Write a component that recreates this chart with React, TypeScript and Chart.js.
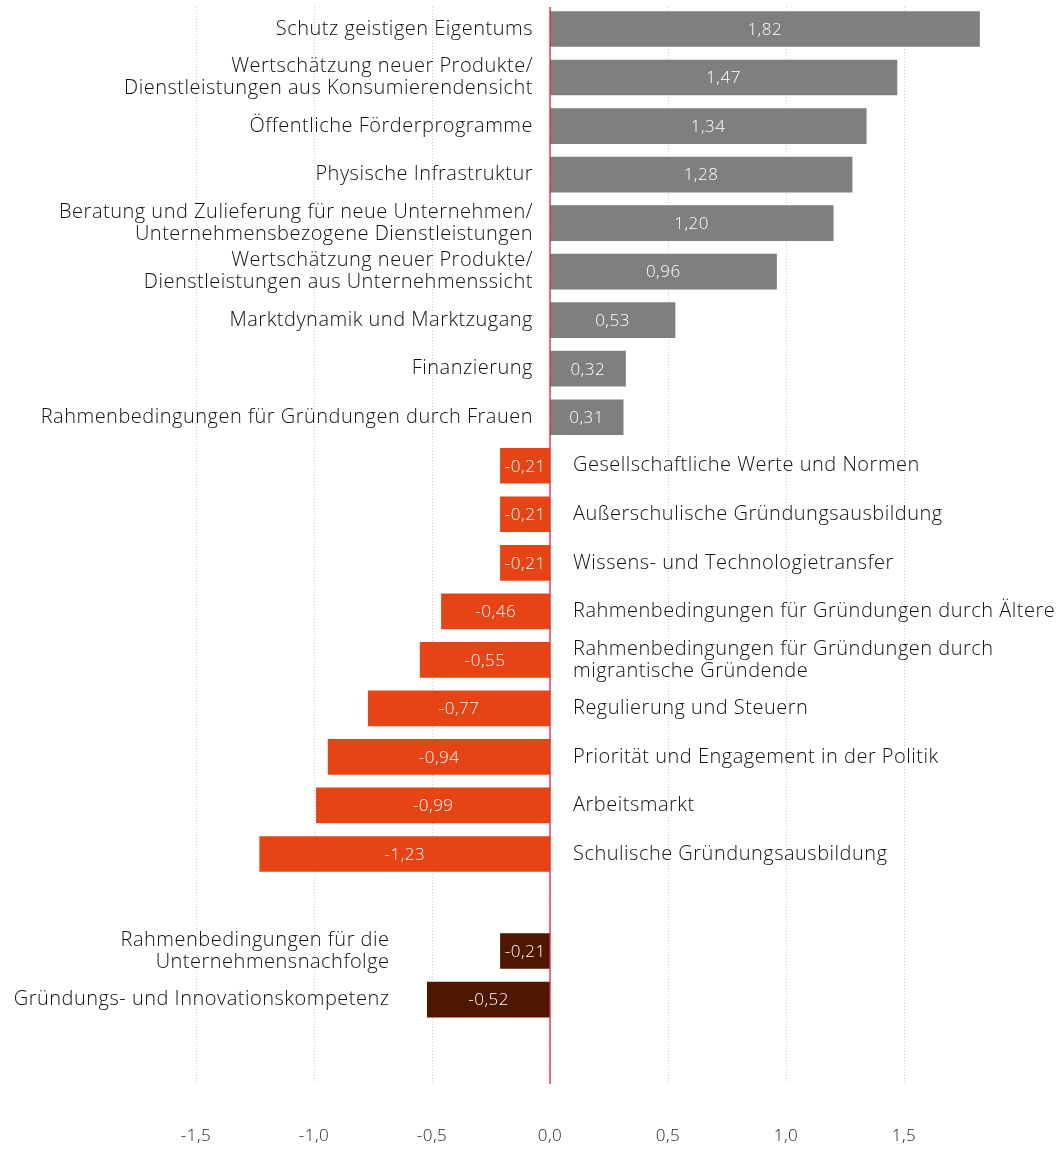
import React, { useEffect, useRef } from "react";
import { Chart, registerables } from "chart.js";

Chart.register(...registerables);

// ---- data ----
const categoryLabels: string[][] = [
  ["Schutz geistigen Eigentums"],
  ["Wertschätzung neuer Produkte/", "Dienstleistungen aus Konsumierendensicht"],
  ["Öffentliche Förderprogramme"],
  ["Physische Infrastruktur"],
  ["Beratung und Zulieferung für neue Unternehmen/", "Unternehmensbezogene Dienstleistungen"],
  ["Wertschätzung neuer Produkte/", "Dienstleistungen aus Unternehmenssicht"],
  ["Marktdynamik und Marktzugang"],
  ["Finanzierung"],
  ["Rahmenbedingungen für Gründungen durch Frauen"],
  ["Gesellschaftliche Werte und Normen"],
  ["Außerschulische Gründungsausbildung"],
  ["Wissens- und Technologietransfer"],
  ["Rahmenbedingungen für Gründungen durch Ältere"],
  ["Rahmenbedingungen für Gründungen durch", "migrantische Gründende"],
  ["Regulierung und Steuern"],
  ["Priorität und Engagement in der Politik"],
  ["Arbeitsmarkt"],
  ["Schulische Gründungsausbildung"],
  ["Rahmenbedingungen für die", "Unternehmensnachfolge"],
  ["Gründungs- und Innovationskompetenz"],
];

const values: number[] = [
  1.82, 1.47, 1.34, 1.28, 1.2, 0.96, 0.53, 0.32, 0.31,
  -0.21, -0.21, -0.21, -0.46, -0.55, -0.77, -0.94, -0.99, -1.23,
  -0.21, -0.52,
];

// group of each bar: "pos" (grey), "neg" (orange), "extra" (dark, separate block)
const groups: string[] = [
  "pos", "pos", "pos", "pos", "pos", "pos", "pos", "pos", "pos",
  "neg", "neg", "neg", "neg", "neg", "neg", "neg", "neg", "neg",
  "extra", "extra",
];

// row slot of each bar (slot 18 is left empty as a gap)
const rowSlots: number[] = [
  0, 1, 2, 3, 4, 5, 6, 7, 8, 9, 10, 11, 12, 13, 14, 15, 16, 17, 19, 20,
];

const xTickValues: number[] = [-1.5, -1.0, -0.5, 0, 0.5, 1.0, 1.5];

const groupColors: Record<string, string> = {
  pos: "#7f7f7f",
  neg: "#e64415",
  extra: "#4e1700",
};

const fmt = (v: number, digits: number) => v.toFixed(digits).replace(".", ",");

const FONT = '"Open Sans", "Noto Sans", sans-serif';

export default function App() {
  const canvasRef = useRef<HTMLCanvasElement | null>(null);

  useEffect(() => {
    document.body.style.margin = "0";
    const canvas = canvasRef.current;
    if (!canvas) return;

    const spacingPlugin = {
      id: "spacingPlugin",
      beforeDraw(chart: any) {
        (chart.ctx as any).letterSpacing = "0.5px";
      },
    };

    const labelPlugin = {
      id: "labelPlugin",
      afterDatasetsDraw(chart: any) {
        const { ctx, scales } = chart;
        const xs = scales.x;
        const ys = scales.y;
        const x0 = xs.getPixelForValue(0);
        ctx.save();
        (ctx as any).letterSpacing = "0.5px";
        // zero line
        ctx.strokeStyle = "#e8101c";
        ctx.lineWidth = 1.2;
        ctx.beginPath();
        ctx.moveTo(x0, chart.chartArea.top);
        ctx.lineTo(x0, chart.chartArea.bottom);
        ctx.stroke();

        for (let i = 0; i < values.length; i++) {
          const v = values[i];
          const g = groups[i];
          const yc = ys.getPixelForValue(rowSlots[i]);
          const xv = xs.getPixelForValue(v);
          // value label inside bar
          ctx.font = `300 17px ${FONT}`;
          ctx.fillStyle = "#ffffff";
          ctx.textAlign = "center";
          ctx.textBaseline = "middle";
          ctx.fillText(fmt(v, 2), (xv + x0) / 2, yc + 1);

          // category label
          const lines = categoryLabels[i];
          ctx.font = `300 20px ${FONT}`;
          ctx.fillStyle = "#111111";
          let tx = x0;
          if (g === "pos") {
            ctx.textAlign = "right";
            tx = x0 - 17;
          } else if (g === "neg") {
            ctx.textAlign = "left";
            tx = x0 + 23;
          } else {
            ctx.textAlign = "right";
            tx = xs.getPixelForValue(-0.68);
          }
          const lh = 22;
          const startY = yc - ((lines.length - 1) * lh) / 2;
          lines.forEach((ln, k) => {
            ctx.fillText(ln, tx, startY + k * lh);
          });
        }
        ctx.restore();
      },
    };

    const chart = new Chart(canvas, {
      type: "bar",
      data: {
        datasets: [
          {
            data: values.map((v, i) => ({ x: v, y: rowSlots[i] })),
            backgroundColor: groups.map((g) => groupColors[g]),
            borderWidth: 0,
            barThickness: 35,
          },
        ],
      },
      options: {
        indexAxis: "y",
        animation: false,
        responsive: false,
        maintainAspectRatio: false,
        layout: { padding: { left: 172.4, right: 64.6, top: 7, bottom: 0 } },
        plugins: {
          legend: { display: false },
          tooltip: { enabled: false },
        },
        scales: {
          x: {
            type: "linear",
            min: -1.6,
            max: 1.9,
            afterBuildTicks: (scale: any) => {
              scale.ticks = xTickValues.map((v) => ({ value: v }));
            },
            afterFit: (scale: any) => {
              scale.height = 65;
            },
            ticks: {
              includeBounds: false,
              padding: 42,
              color: "#222222",
              font: { family: FONT, size: 17, weight: "300" },
              callback: (v: any) => fmt(Number(v), 1),
            },
            grid: {
              drawTicks: false,
              color: "#cccccc",
              lineWidth: 1,
            },
            border: { display: false, dash: [1, 2] },
          },
          y: {
            type: "linear",
            reverse: true,
            offset: false,
            bounds: "data",
            min: -0.4534,
            max: 21.74,
            display: false,
            grid: { display: false, offset: false },
            afterDataLimits: (scale: any) => {
              scale.min = -0.4534;
              scale.max = 21.74;
            },
            afterBuildTicks: (scale: any) => {
              scale.min = -0.4534;
              scale.max = 21.74;
            },
          },
        },
      },
      plugins: [spacingPlugin, labelPlugin],
    } as any);

    return () => chart.destroy();
  }, []);

  return (
    <div style={{ width: 1063, height: 1149 }}>
      <canvas ref={canvasRef} width={1063} height={1149} style={{ display: "block", width: 1063, height: 1149 }} />
    </div>
  );
}
